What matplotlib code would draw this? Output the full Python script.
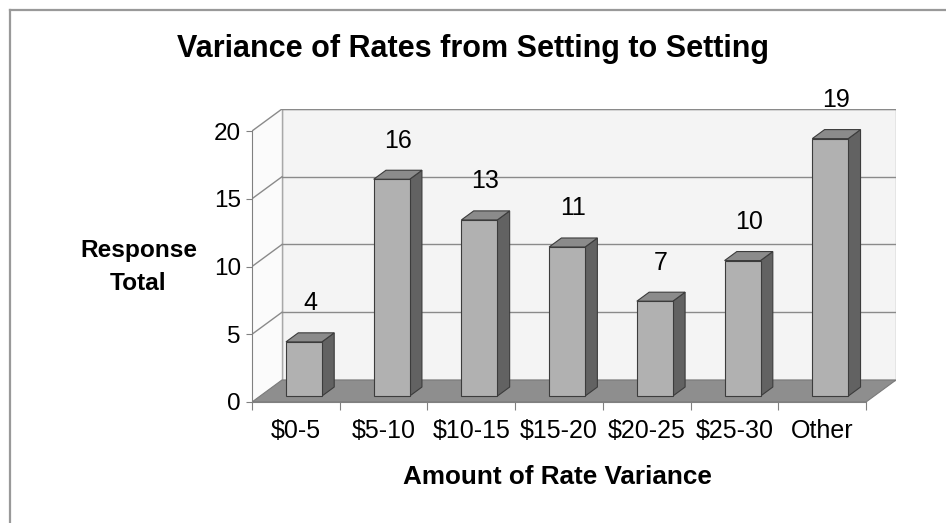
import matplotlib
matplotlib.use("Agg")
import matplotlib.pyplot as plt
from matplotlib.patches import Polygon
from matplotlib.lines import Line2D

plt.rcParams['font.family'] = ['Liberation Sans', 'DejaVu Sans']

# ---- data ----
categories = ["$0-5", "$5-10", "$10-15", "$15-20", "$20-25", "$25-30", "Other"]
responses = [4, 16, 13, 11, 7, 10, 19]
y_ticks = [0, 5, 10, 15, 20]

title = "Variance of Rates from Setting to Setting"
x_title = "Amount of Rate Variance"
y_title_lines = ["Response", "Total"]

# ---- 3D-look geometry (depth expressed in data units) ----
n = len(categories)
ymax = 20
DX = 0.3415        # horizontal depth shift, in categories
DY = 1.624         # vertical depth shift, in value units
bar_w = 0.41
f_front, f_back = 0.27, 0.68

wall_col = "#f4f4f4"
grid_col = "#8a8a8a"
floor_col = "#8e8e8e"
front_col = "#b1b1b1"
side_col = "#626262"
top_col = "#8b8b8b"
edge_col = "#3c3c3c"

W, H = 946, 523
fig = plt.figure(figsize=(W / 100, H / 100), dpi=100)
fig.patch.set_facecolor("white")

ax = fig.add_axes([252 / W, (H - 402) / H, (896 - 252) / W, (402 - 109) / H])
ax.set_xlim(0, n + DX)
ax.set_ylim(0, ymax + DY)
ax.patch.set_visible(False)

# back wall
ax.add_patch(Polygon([(DX, DY), (n + DX, DY), (n + DX, ymax + DY), (DX, ymax + DY)],
                     closed=True, facecolor=wall_col, edgecolor="#a8a8a8", lw=1.0, zorder=1))
# left side wall
ax.add_patch(Polygon([(0, 0), (DX, DY), (DX, ymax + DY), (0, ymax)],
                     closed=True, facecolor="#fbfbfb", edgecolor="none", zorder=1))
ax.plot([DX, DX], [DY, ymax + DY], color="#a8a8a8", lw=1.0, zorder=1.5)

# gridlines on back wall and side wall
for t in y_ticks[1:]:
    ax.plot([DX, n + DX], [t + DY, t + DY], color=grid_col, lw=1.0, zorder=2)
    ax.plot([0, DX], [t, t + DY], color=grid_col, lw=1.0, zorder=2)

# floor
ax.add_patch(Polygon([(0, 0), (n, 0), (n + DX, DY), (DX, DY)],
                     closed=True, facecolor=floor_col, edgecolor="#7a7a7a", lw=0.8, zorder=3))

# bars
for i, v in enumerate(responses):
    cx = i + 0.5
    xl0 = cx - bar_w / 2 + f_front * DX
    xr0 = cx + bar_w / 2 + f_front * DX
    xl1 = cx - bar_w / 2 + f_back * DX
    xr1 = cx + bar_w / 2 + f_back * DX
    y0 = f_front * DY
    y1 = f_back * DY
    ax.add_patch(Polygon([(xr0, y0), (xr1, y1), (xr1, v + y1), (xr0, v + y0)],
                         closed=True, facecolor=side_col, edgecolor=edge_col, lw=0.8, zorder=4))
    ax.add_patch(Polygon([(xl0, v + y0), (xr0, v + y0), (xr1, v + y1), (xl1, v + y1)],
                         closed=True, facecolor=top_col, edgecolor=edge_col, lw=0.8, zorder=4))
    ax.add_patch(Polygon([(xl0, y0), (xr0, y0), (xr0, v + y0), (xl0, v + y0)],
                         closed=True, facecolor=front_col, edgecolor=edge_col, lw=0.8, zorder=5))
    ax.text(cx + (f_front + f_back) / 2 * DX, v + y0 + 2.85, str(v),
            ha="center", va="center", fontsize=18, color="black", zorder=6)

# axes
for s in ["top", "right"]:
    ax.spines[s].set_visible(False)
ax.spines["left"].set_bounds(0, ymax)
ax.spines["bottom"].set_bounds(0, n)
ax.spines["left"].set_color("#808080")
ax.spines["bottom"].set_color("#808080")
ax.spines["left"].set_zorder(7)
ax.spines["bottom"].set_zorder(7)

ax.set_yticks(y_ticks)
ax.set_yticklabels([str(t) for t in y_ticks])
ax.tick_params(axis="y", direction="out", length=4, color="#808080", pad=4,
               labelsize=17.5)
ax.set_xticks(range(n + 1))
ax.set_xticklabels([])
ax.tick_params(axis="x", which="major", direction="out", length=6, color="#808080")
ax.set_xticks([i + 0.5 for i in range(n)], minor=True)
ax.set_xticklabels(categories, minor=True)
ax.tick_params(axis="x", which="minor", length=0, pad=12.5, labelsize=18)

# titles
fig.text(472.5 / W, (H - 57) / H, title, ha="center", va="baseline",
         fontsize=22, fontweight="bold")
fig.text(557 / W, (H - 484) / H, x_title, ha="center", va="baseline",
         fontsize=18.8, fontweight="bold")
fig.text(138.5 / W, (H - 257) / H, y_title_lines[0], ha="center", va="baseline",
         fontsize=17.6, fontweight="bold")
fig.text(138.5 / W, (H - 290) / H, y_title_lines[1], ha="center", va="baseline",
         fontsize=17.6, fontweight="bold")

# outer frame (top and left edges)
fig.add_artist(Line2D([9.5 / W, 1.0], [(H - 9.5) / H, (H - 9.5) / H],
                      transform=fig.transFigure, color="#999999", lw=1.6))
fig.add_artist(Line2D([9.5 / W, 9.5 / W], [0.0, (H - 9.5) / H],
                      transform=fig.transFigure, color="#999999", lw=1.6))

fig.savefig("out.png", dpi=100)
